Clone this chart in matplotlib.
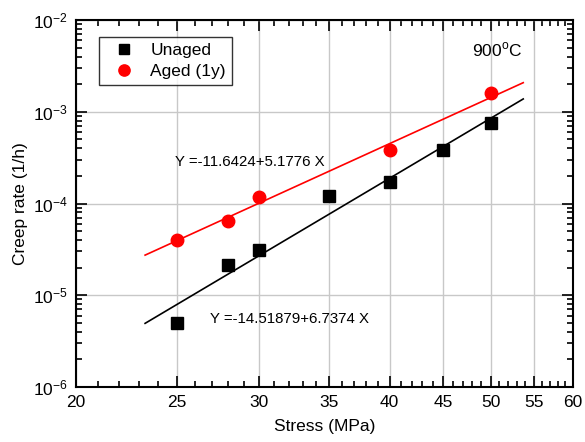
import matplotlib
matplotlib.use("Agg")
import matplotlib.pyplot as plt
import numpy as np
from matplotlib.ticker import FixedLocator, NullFormatter, LogLocator, FixedFormatter

plt.rcParams['font.family'] = ['Liberation Sans', 'DejaVu Sans']
plt.rcParams['mathtext.fontset'] = 'custom'
plt.rcParams['mathtext.rm'] = 'Liberation Sans'

stress_unaged = [25, 28, 30, 35, 40, 45, 50]
rate_unaged = [5.0e-6, 2.15e-5, 3.15e-5, 1.22e-4, 1.73e-4, 3.8e-4, 7.5e-4]
stress_aged = [25, 28, 30, 40, 50]
rate_aged = [4.0e-5, 6.5e-5, 1.19e-4, 3.83e-4, 1.59e-3]
fit_unaged = (-14.51879, 6.7374)
fit_aged = (-11.6424, 5.1776)
fit_range = (23.3, 53.75)
xticks = [20, 25, 30, 35, 40, 45, 50, 55, 60]

W, H = 585, 442
fig = plt.figure(figsize=(W/100, H/100), dpi=100)
ax = fig.add_axes([76/W, 1-387/H, (573-76)/W, (387-20)/H])
ax.set_xscale('log')
ax.set_yscale('log')
ax.set_xlim(20, 60)
ax.set_ylim(1e-6, 1e-2)

xs = np.linspace(fit_range[0], fit_range[1], 100)
ax.plot(xs, 10**(fit_unaged[0] + fit_unaged[1]*np.log10(xs)), color='black', lw=1.2, zorder=3)
ax.plot(xs, 10**(fit_aged[0] + fit_aged[1]*np.log10(xs)), color='red', lw=1.2, zorder=3)
ax.plot(stress_unaged, rate_unaged, 's', color='black', ms=8, ls='none', label='Unaged', zorder=4)
ax.plot(stress_aged, rate_aged, 'o', color='red', ms=9, ls='none', label='Aged (1y)', zorder=4)

ax.xaxis.set_major_locator(FixedLocator(xticks))
ax.xaxis.set_minor_locator(FixedLocator([v for v in range(20, 61) if v not in xticks]))
ax.xaxis.set_major_formatter(FixedFormatter([str(v) for v in xticks]))
ax.xaxis.set_minor_formatter(NullFormatter())
ax.yaxis.set_major_locator(LogLocator(base=10, numticks=10))
ax.yaxis.set_minor_locator(LogLocator(base=10, subs=np.arange(2, 10), numticks=20))
ax.yaxis.set_minor_formatter(NullFormatter())

ax.tick_params(which='both', direction='in', top=True, right=True, labelsize=12.5, width=1.2)
ax.tick_params(which='major', length=8, pad=6)
ax.tick_params(which='minor', length=4)
ax.grid(True, which='major', color='#c8c8c8', lw=1)
ax.set_axisbelow(True)
for s in ax.spines.values():
    s.set_linewidth(1.5)

ax.set_xlabel('Stress (MPa)', fontsize=12.5, labelpad=6)
ax.set_ylabel('Creep rate (1/h)', fontsize=12.5, labelpad=3)

leg = ax.legend(loc='upper left', bbox_to_anchor=((99-76)/497, 1-(37-20)/367), fontsize=12.5,
                frameon=True, fancybox=False, edgecolor='black', borderaxespad=0,
                handletextpad=0.4, borderpad=0.35, labelspacing=0.3, handlelength=2.2,
                markerscale=0.9)
leg.get_frame().set_linewidth(1.0)

fig.text(472/W, 1-50/H, r'900$^{\rm o}$C', fontsize=12.5, va='center', ha='left')
fig.text(175/W, 1-162/H, 'Y =-11.6424+5.1776 X', fontsize=10.8, va='center', ha='left')
fig.text(210/W, 1-319/H, 'Y =-14.51879+6.7374 X', fontsize=10.8, va='center', ha='left')

fig.savefig('out.png', dpi=100)
